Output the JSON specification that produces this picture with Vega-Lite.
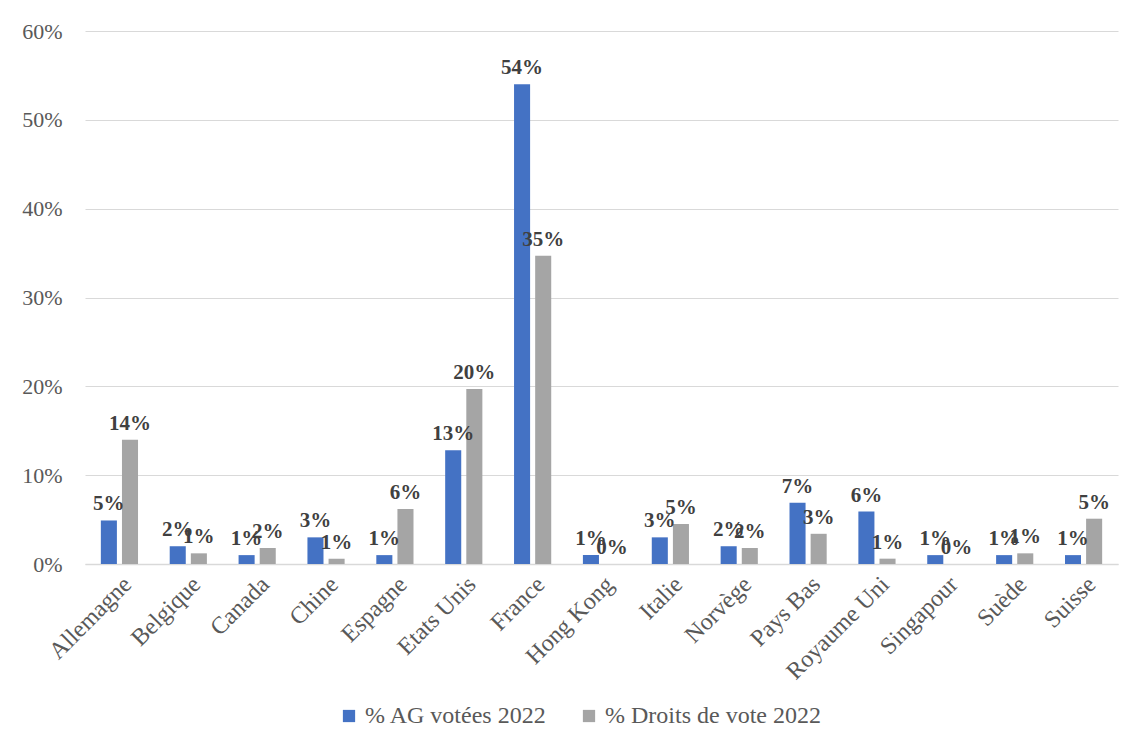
{
  "$schema": "https://vega.github.io/schema/vega-lite/v6.json",
  "autosize": "none",
  "width": 1033,
  "height": 533,
  "padding": {"left": 85, "top": 31, "right": 5, "bottom": 176},
  "background": "white",
  "config": {
    "view": {"stroke": null},
    "font": "Liberation Serif"
  },
  "data": {
    "values": [
      {"pays": "Allemagne", "serie": "% AG votées 2022", "v": 0.049},
      {"pays": "Allemagne", "serie": "% Droits de vote 2022", "v": 0.140},
      {"pays": "Belgique", "serie": "% AG votées 2022", "v": 0.020},
      {"pays": "Belgique", "serie": "% Droits de vote 2022", "v": 0.012},
      {"pays": "Canada", "serie": "% AG votées 2022", "v": 0.010},
      {"pays": "Canada", "serie": "% Droits de vote 2022", "v": 0.018},
      {"pays": "Chine", "serie": "% AG votées 2022", "v": 0.030},
      {"pays": "Chine", "serie": "% Droits de vote 2022", "v": 0.006},
      {"pays": "Espagne", "serie": "% AG votées 2022", "v": 0.010},
      {"pays": "Espagne", "serie": "% Droits de vote 2022", "v": 0.062},
      {"pays": "Etats Unis", "serie": "% AG votées 2022", "v": 0.128},
      {"pays": "Etats Unis", "serie": "% Droits de vote 2022", "v": 0.197},
      {"pays": "France", "serie": "% AG votées 2022", "v": 0.540},
      {"pays": "France", "serie": "% Droits de vote 2022", "v": 0.347},
      {"pays": "Hong Kong", "serie": "% AG votées 2022", "v": 0.010},
      {"pays": "Hong Kong", "serie": "% Droits de vote 2022", "v": 0.000},
      {"pays": "Italie", "serie": "% AG votées 2022", "v": 0.030},
      {"pays": "Italie", "serie": "% Droits de vote 2022", "v": 0.045},
      {"pays": "Norvège", "serie": "% AG votées 2022", "v": 0.020},
      {"pays": "Norvège", "serie": "% Droits de vote 2022", "v": 0.018},
      {"pays": "Pays Bas", "serie": "% AG votées 2022", "v": 0.069},
      {"pays": "Pays Bas", "serie": "% Droits de vote 2022", "v": 0.034},
      {"pays": "Royaume Uni", "serie": "% AG votées 2022", "v": 0.059},
      {"pays": "Royaume Uni", "serie": "% Droits de vote 2022", "v": 0.006},
      {"pays": "Singapour", "serie": "% AG votées 2022", "v": 0.010},
      {"pays": "Singapour", "serie": "% Droits de vote 2022", "v": 0.000},
      {"pays": "Suède", "serie": "% AG votées 2022", "v": 0.010},
      {"pays": "Suède", "serie": "% Droits de vote 2022", "v": 0.012},
      {"pays": "Suisse", "serie": "% AG votées 2022", "v": 0.010},
      {"pays": "Suisse", "serie": "% Droits de vote 2022", "v": 0.051}
    ]
  },
  "encoding": {
    "x": {
      "field": "pays", "type": "nominal", "sort": null,
      "scale": {"paddingInner": 0.46, "paddingOuter": 0.23},
      "axis": {
        "title": null, "labelAngle": -45, "ticks": false,
        "domainColor": "#d9d9d9", "domainWidth": 1.5,
        "labelFont": "Liberation Serif", "labelFontSize": 24, "labelColor": "#595959",
        "labelPadding": 8, "labelLimit": 0
      }
    },
    "xOffset": {
      "field": "serie", "type": "nominal",
      "scale": {"paddingInner": 0.24, "paddingOuter": 0}
    },
    "y": {
      "field": "v", "type": "quantitative",
      "scale": {"domain": [0, 0.6], "nice": false},
      "axis": {
        "title": null, "format": ".0%", "values": [0, 0.1, 0.2, 0.3, 0.4, 0.5, 0.6],
        "labelOverlap": false,
        "domain": false, "ticks": false,
        "gridColor": "#d9d9d9", "gridWidth": 1.2,
        "labelFont": "Liberation Serif", "labelFontSize": 22, "labelColor": "#595959",
        "labelPadding": 23
      }
    }
  },
  "layer": [
    {
      "mark": {"type": "bar"},
      "encoding": {
        "color": {
          "field": "serie", "type": "nominal",
          "scale": {"domain": ["% AG votées 2022", "% Droits de vote 2022"], "range": ["#4472C4", "#A5A5A5"]},
          "legend": {
            "title": null, "orient": "none", "direction": "horizontal",
            "legendX": 252, "legendY": 673,
            "symbolType": "square", "symbolSize": 150, "symbolStrokeWidth": 0,
            "labelFont": "Liberation Serif", "labelFontSize": 24, "labelColor": "#595959",
            "labelLimit": 0, "columnPadding": 30, "labelOffset": 4
          }
        }
      }
    },
    {
      "mark": {"type": "text", "baseline": "bottom", "dy": -6, "fontWeight": "bold", "fontSize": 21, "color": "#404040", "font": "Liberation Serif"},
      "encoding": {
        "text": {"field": "v", "type": "quantitative", "format": ".0%"}
      }
    }
  ]
}
